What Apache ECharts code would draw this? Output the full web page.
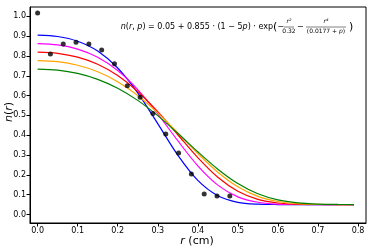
<!DOCTYPE html>
<html>
<head>
<meta charset="utf-8">
<script src="https://cdn.jsdelivr.net/npm/echarts@6/dist/echarts.min.js"></script>
<style>html,body{margin:0;padding:0;background:#fff}#c{width:374px;height:249px}</style>
</head>
<body>
<div id="c"></div>
<script>
// radial grid for model curves (cm)
const rGrid = [0, 0.05, 0.10, 0.15, 0.20, 0.25, 0.30, 0.35, 0.40, 0.45, 0.50, 0.55, 0.60, 0.65, 0.70, 0.75, 0.79];
// model curves n(r,p)
const nP000 = [0.905, 0.8981, 0.8740, 0.8245, 0.7393, 0.6140, 0.4584, 0.2997, 0.1721, 0.0948, 0.0615, 0.0519, 0.0502, 0.0500, 0.0500, 0.0500, 0.0500];
const nP001 = [0.8623, 0.8557, 0.8344, 0.7934, 0.7266, 0.6303, 0.5076, 0.3722, 0.2455, 0.1482, 0.0890, 0.0616, 0.0524, 0.0503, 0.0500, 0.0500, 0.0500];
const nP002 = [0.8195, 0.8134, 0.7938, 0.7577, 0.7009, 0.6207, 0.5186, 0.4024, 0.2867, 0.1877, 0.1171, 0.0764, 0.0580, 0.0518, 0.0503, 0.0500, 0.0500];
const nP003 = [0.7768, 0.7710, 0.7529, 0.7203, 0.6702, 0.6008, 0.5129, 0.4118, 0.3077, 0.2134, 0.1398, 0.0915, 0.0656, 0.0546, 0.0510, 0.0502, 0.0500];
const nP004 = [0.7340, 0.7286, 0.7118, 0.6820, 0.6371, 0.5758, 0.4987, 0.4096, 0.3162, 0.2285, 0.1560, 0.1044, 0.0735, 0.0583, 0.0523, 0.0505, 0.0501];
// measured data points
const dataR = [0, 0.032, 0.064, 0.096, 0.128, 0.16, 0.192, 0.224, 0.256, 0.288, 0.32, 0.352, 0.384, 0.416, 0.448, 0.48];
const dataN = [1.017, 0.81, 0.86, 0.869, 0.86, 0.83, 0.761, 0.65, 0.591, 0.51, 0.406, 0.31, 0.204, 0.103, 0.093, 0.093];
// tick labels
const xTicks = [0, 0.1, 0.2, 0.3, 0.4, 0.5, 0.6, 0.7, 0.8];
const yTicks = [0, 0.1, 0.2, 0.3, 0.4, 0.5, 0.6, 0.7, 0.8, 0.9, 1.0];

const curves = [
  {d: nP000, c: '#0000ff'},
  {d: nP001, c: '#ff00ff'},
  {d: nP002, c: '#ff0000'},
  {d: nP003, c: '#ffa500'},
  {d: nP004, c: '#008000'}
];
const FF = 'DejaVu Sans';
const chart = echarts.init(document.getElementById('c'), null, {renderer: 'canvas'});
const series = curves.map((cv, k) => ({
  type: 'line',
  data: rGrid.map((r, i) => [r, cv.d[i]]),
  showSymbol: false,
  smooth: 0.3,
  lineStyle: {color: cv.c, width: 1.2},
  itemStyle: {color: cv.c},
  z: 2 + k,
  silent: true,
  animation: false
}));
series.push({
  type: 'scatter',
  data: dataR.map((r, i) => [r, dataN[i]]),
  symbolSize: 5,
  itemStyle: {color: '#000'},
  z: 10,
  animation: false
});
const FS = 8, SS = 6, Y0 = 27, XE = 273;
const sm = {fontFamily: FF, fontSize: SS, fill: '#000'};
chart.setOption({
  animation: false,
  grid: {left: 30, right: 8, top: 7, bottom: 26, show: true, borderColor: '#000', borderWidth: 1, containLabel: false},
  xAxis: {
    type: 'value', min: -0.019, max: 0.82,
    splitLine: {show: false},
    axisLine: {show: true, onZero: false, lineStyle: {color: '#000', width: 1}},
    axisTick: {show: true, customValues: xTicks, length: 3.5, lineStyle: {color: '#000'}},
    axisLabel: {customValues: xTicks, fontFamily: FF, fontSize: 8, color: '#000', margin: 4, formatter: v => v.toFixed(1)}
  },
  yAxis: {
    type: 'value', min: -0.043, max: 1.047,
    splitLine: {show: false},
    axisLine: {show: true, onZero: false, lineStyle: {color: '#000', width: 1}},
    axisTick: {show: true, customValues: yTicks, length: 3.5, lineStyle: {color: '#000'}},
    axisLabel: {customValues: yTicks, fontFamily: FF, fontSize: 8, color: '#000', margin: 4, formatter: v => v.toFixed(1)}
  },
  series: series,
  graphic: [
    {type: 'text', x: 9, y: 112, rotation: Math.PI / 2,
      style: {text: '{i|n}{n|(}{i|r}{n|)}', align: 'center', verticalAlign: 'middle',
        rich: {i: {fontFamily: FF, fontSize: 11, fontStyle: 'italic', fill: '#000'}, n: {fontFamily: FF, fontSize: 11, fill: '#000'}}}},
    {type: 'text', x: 197, y: 241,
      style: {text: '{i|r}{n| (cm)}', align: 'center', verticalAlign: 'middle',
        rich: {i: {fontFamily: FF, fontSize: 11, fontStyle: 'italic', fill: '#000'}, n: {fontFamily: FF, fontSize: 11, fill: '#000'}}}},
    {type: 'text', x: XE, y: Y0,
      style: {text: '{i|n}{n|(}{i|r}{n|, }{i|p}{n|) = 0.05 + 0.855 · (1 − 5}{i|p}{n|) · exp}', align: 'right', verticalAlign: 'middle',
        rich: {i: {fontFamily: FF, fontSize: FS, fontStyle: 'italic', fill: '#000'}, n: {fontFamily: FF, fontSize: FS, fill: '#000'}}}},
    {type: 'text', x: XE, y: Y0, style: {text: '(', fontFamily: FF, fontSize: 11, fill: '#000', align: 'left', verticalAlign: 'middle'}},
    {type: 'text', x: XE + 4.5, y: Y0, style: {text: '−', fontFamily: FF, fontSize: FS, fill: '#000', align: 'left', verticalAlign: 'middle'}},
    {type: 'text', x: XE + 16, y: Y0 - 3, style: Object.assign({text: 'r²', fontStyle: 'italic', align: 'center', verticalAlign: 'bottom'}, sm)},
    {type: 'line', shape: {x1: XE + 11, y1: Y0, x2: XE + 21, y2: Y0}, style: {stroke: '#000', lineWidth: 0.5}},
    {type: 'text', x: XE + 16, y: Y0 + 1, style: Object.assign({text: '0.32', align: 'center', verticalAlign: 'top'}, sm)},
    {type: 'text', x: XE + 24, y: Y0, style: {text: '−', fontFamily: FF, fontSize: FS, fill: '#000', align: 'left', verticalAlign: 'middle'}},
    {type: 'text', x: XE + 53, y: Y0 - 3, style: Object.assign({text: 'r⁴', fontStyle: 'italic', align: 'center', verticalAlign: 'bottom'}, sm)},
    {type: 'line', shape: {x1: XE + 33, y1: Y0, x2: XE + 73, y2: Y0}, style: {stroke: '#000', lineWidth: 0.5}},
    {type: 'text', x: XE + 53, y: Y0 + 1, style: {text: '{n|(0.0177 + }{i|p}{n|)}', align: 'center', verticalAlign: 'top',
      rich: {i: {fontFamily: FF, fontSize: SS, fontStyle: 'italic', fill: '#000'}, n: {fontFamily: FF, fontSize: SS, fill: '#000'}}}},
    {type: 'text', x: XE + 76, y: Y0, style: {text: ')', fontFamily: FF, fontSize: 11, fill: '#000', align: 'left', verticalAlign: 'middle'}}
  ]
});
</script>
</body>
</html>
